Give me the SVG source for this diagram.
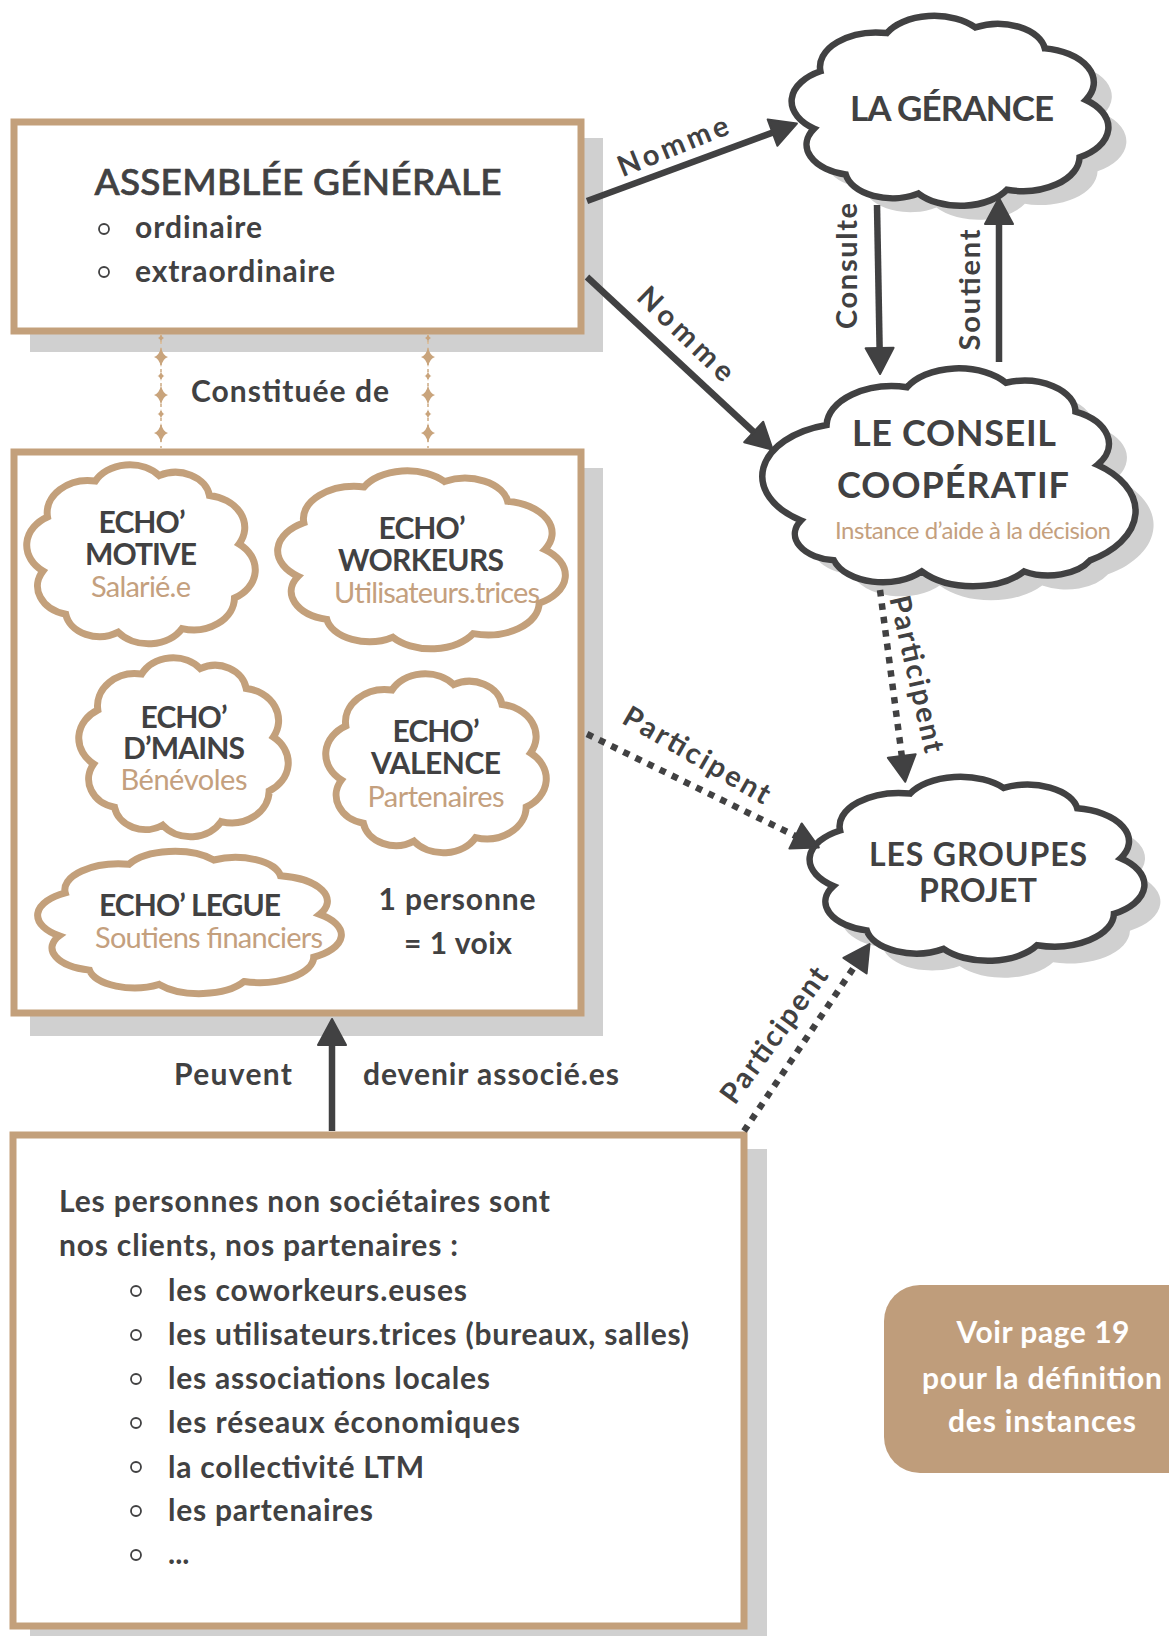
<svg xmlns="http://www.w3.org/2000/svg" xmlns:xlink="http://www.w3.org/1999/xlink" width="1169" height="1636" viewBox="0 0 1169 1636">
<style>
  text { font-family: Lato, "Liberation Sans", sans-serif; fill: #414142; }
  .box { fill: #ffffff; stroke: #C3A07B; stroke-width: 7; }
  .shadow { fill: #D0D0D0; }
  .cloud-dark { fill: #ffffff; stroke: #414142; stroke-width: 6.5; vector-effect: non-scaling-stroke; }
  .cloud-tan { fill: #ffffff; stroke: #C3A07B; stroke-width: 7; vector-effect: non-scaling-stroke; }
  .cloud-shadow { fill: #D0D0D0; stroke: none; }
  .h-echo { font-size: 30px; font-weight: 700; text-anchor: middle; }
  .s-echo { font-size: 29px; font-weight: 400; text-anchor: middle; fill: #C4A07E; }
  .h-dark { font-size: 35px; font-weight: 700; text-anchor: middle; }
  .body { font-size: 30px; font-weight: 700; }
  .lbl { font-size: 29px; font-weight: 700; text-anchor: middle; }
  .bullet { fill: none; stroke: #414142; stroke-width: 1.8; }
  .line { fill: none; stroke: #414142; stroke-width: 6.5; }
  .dots { fill: none; stroke: #414142; stroke-width: 6.5; stroke-dasharray: 6.5 7; }
  .spark { fill: #C9A47C; }
</style>
<defs>
  <marker id="arr" viewBox="0 0 32 32" refX="2" refY="16" markerWidth="32" markerHeight="32" markerUnits="userSpaceOnUse" orient="auto">
    <path d="M2,2 L28,16 L2,30 Z" fill="#414142" stroke="#414142" stroke-width="2" stroke-linejoin="round"/>
  </marker>
  <path id="spark" d="M0,-10 Q1.6,-1.6 7,0 Q1.6,1.6 0,10 Q-1.6,1.6 -7,0 Q-1.6,-1.6 0,-10 Z"/>
</defs>

<!-- shadows of boxes -->
<rect class="shadow" x="30" y="138" width="573" height="214"/>
<rect class="shadow" x="30" y="468" width="573" height="568"/>
<rect class="shadow" x="30" y="1149" width="737" height="500"/>

<!-- Assemblée générale -->
<g id="assemblee-generale">
  <rect class="box" x="14" y="122" width="567" height="209"/>
  <text x="298" y="195" style="font-size:37px;font-weight:500;stroke:#414142;stroke-width:0.7" text-anchor="middle" textLength="407" lengthAdjust="spacing">ASSEMBLÉE GÉNÉRALE</text>
  <circle class="bullet" cx="104" cy="229" r="5"/>
  <text class="body" x="135" y="238" textLength="127" lengthAdjust="spacing">ordinaire</text>
  <circle class="bullet" cx="104" cy="272" r="5"/>
  <text class="body" x="135" y="282" textLength="200" lengthAdjust="spacing">extraordinaire</text>
</g>

<!-- decorative link "Constituée de" -->
<g id="constituee-de">
  <line x1="161" y1="334" x2="161" y2="448" stroke="#D9C0A3" stroke-width="2" stroke-dasharray="3 4"/>
  <line x1="428" y1="334" x2="428" y2="448" stroke="#D9C0A3" stroke-width="2" stroke-dasharray="3 4"/>
  <use xlink:href="#spark" class="spark" transform="translate(161,338) scale(0.45)"/>
  <use xlink:href="#spark" class="spark" transform="translate(161,357)"/>
  <use xlink:href="#spark" class="spark" transform="translate(161,376) scale(0.5)"/>
  <use xlink:href="#spark" class="spark" transform="translate(161,395)"/>
  <use xlink:href="#spark" class="spark" transform="translate(161,414) scale(0.5)"/>
  <use xlink:href="#spark" class="spark" transform="translate(161,433)"/>
  <use xlink:href="#spark" class="spark" transform="translate(428,338) scale(0.45)"/>
  <use xlink:href="#spark" class="spark" transform="translate(428,357)"/>
  <use xlink:href="#spark" class="spark" transform="translate(428,376) scale(0.5)"/>
  <use xlink:href="#spark" class="spark" transform="translate(428,395)"/>
  <use xlink:href="#spark" class="spark" transform="translate(428,414) scale(0.5)"/>
  <use xlink:href="#spark" class="spark" transform="translate(428,433)"/>
  <text class="body" x="290" y="402" text-anchor="middle" textLength="198" lengthAdjust="spacing">Constituée de</text>
</g>

<!-- Members box -->
<g id="associes">
  <rect class="box" x="14" y="452" width="567" height="561"/>
  <text class="body" x="457" y="910" text-anchor="middle" textLength="157" lengthAdjust="spacing">1 personne</text>
  <text class="body" x="458" y="954" text-anchor="middle" textLength="108" lengthAdjust="spacing">= 1 voix</text>
</g>

<g id="echo-motive">
  <path class="cloud-tan" transform="translate(27,463) scale(2.28,1.80)" d="M7,60 A18,18 0 0 1 9,30 A18,18 0 0 1 30,10 A17,17 0 0 1 58,7 A15,15 0 0 1 80,18 A18,18 0 0 1 93,45 A18,18 0 0 1 91,75 A18,18 0 0 1 68,92 A17,17 0 0 1 40,94 A15,15 0 0 1 17,84 A16,16 0 0 1 7,60 Z"/>
  <text class="h-echo" x="142" y="533" textLength="87" lengthAdjust="spacing">ECHO’</text>
  <text class="h-echo" x="141" y="565" textLength="112" lengthAdjust="spacing">MOTIVE</text>
  <text class="s-echo" x="141" y="597" textLength="100" lengthAdjust="spacing">Salarié.e</text>
</g>

<g id="echo-workeurs">
  <path class="cloud-tan" transform="translate(278,469) scale(2.87,1.79)" d="M7,60 A18,18 0 0 1 9,30 A18,18 0 0 1 30,10 A17,17 0 0 1 58,7 A15,15 0 0 1 80,18 A18,18 0 0 1 93,45 A18,18 0 0 1 91,75 A18,18 0 0 1 68,92 A17,17 0 0 1 40,94 A15,15 0 0 1 17,84 A16,16 0 0 1 7,60 Z"/>
  <text class="h-echo" x="422" y="539" textLength="87" lengthAdjust="spacing">ECHO’</text>
  <text class="h-echo" x="421" y="571" textLength="166" lengthAdjust="spacing">WORKEURS</text>
  <text class="s-echo" x="437" y="603" textLength="206" lengthAdjust="spacing">Utilisateurs.trices</text>
</g>

<g id="echo-dmains">
  <path class="cloud-tan" transform="translate(79,656) scale(2.09,1.80)" d="M7,60 A18,18 0 0 1 9,30 A18,18 0 0 1 30,10 A17,17 0 0 1 58,7 A15,15 0 0 1 80,18 A18,18 0 0 1 93,45 A18,18 0 0 1 91,75 A18,18 0 0 1 68,92 A17,17 0 0 1 40,94 A15,15 0 0 1 17,84 A16,16 0 0 1 7,60 Z"/>
  <text class="h-echo" x="184" y="728" textLength="87" lengthAdjust="spacing">ECHO’</text>
  <text class="h-echo" x="184" y="759" textLength="122" lengthAdjust="spacing">D’MAINS</text>
  <text class="s-echo" x="184" y="790" textLength="127" lengthAdjust="spacing">Bénévoles</text>
</g>

<g id="echo-valence">
  <path class="cloud-tan" transform="translate(326,672) scale(2.20,1.80)" d="M7,60 A18,18 0 0 1 9,30 A18,18 0 0 1 30,10 A17,17 0 0 1 58,7 A15,15 0 0 1 80,18 A18,18 0 0 1 93,45 A18,18 0 0 1 91,75 A18,18 0 0 1 68,92 A17,17 0 0 1 40,94 A15,15 0 0 1 17,84 A16,16 0 0 1 7,60 Z"/>
  <text class="h-echo" x="436" y="742" textLength="87" lengthAdjust="spacing">ECHO’</text>
  <text class="h-echo" x="436" y="774" textLength="130" lengthAdjust="spacing">VALENCE</text>
  <text class="s-echo" x="436" y="807" textLength="137" lengthAdjust="spacing">Partenaires</text>
</g>

<g id="echo-legue">
  <path class="cloud-tan" transform="translate(38,850) scale(3.03,1.43)" d="M7,60 A18,18 0 0 1 9,30 A18,18 0 0 1 30,10 A17,17 0 0 1 58,7 A15,15 0 0 1 80,18 A18,18 0 0 1 93,45 A18,18 0 0 1 91,75 A18,18 0 0 1 68,92 A17,17 0 0 1 40,94 A15,15 0 0 1 17,84 A16,16 0 0 1 7,60 Z"/>
  <text class="h-echo" x="190" y="916" textLength="182" lengthAdjust="spacing">ECHO’ LEGUE</text>
  <text class="s-echo" x="209" y="948" textLength="228" lengthAdjust="spacing">Soutiens financiers</text>
</g>

<!-- La gérance -->
<g id="la-gerance">
  <path class="cloud-shadow" transform="translate(810,28) scale(3.16,1.91)" d="M7,60 A18,18 0 0 1 9,30 A18,18 0 0 1 30,10 A17,17 0 0 1 58,7 A15,15 0 0 1 80,18 A18,18 0 0 1 93,45 A18,18 0 0 1 91,75 A18,18 0 0 1 68,92 A17,17 0 0 1 40,94 A15,15 0 0 1 17,84 A16,16 0 0 1 7,60 Z"/>
  <path class="cloud-dark" transform="translate(792,14) scale(3.16,1.91)" d="M7,60 A18,18 0 0 1 9,30 A18,18 0 0 1 30,10 A17,17 0 0 1 58,7 A15,15 0 0 1 80,18 A18,18 0 0 1 93,45 A18,18 0 0 1 91,75 A18,18 0 0 1 68,92 A17,17 0 0 1 40,94 A15,15 0 0 1 17,84 A16,16 0 0 1 7,60 Z"/>
  <text class="h-dark" x="952" y="121" textLength="204" lengthAdjust="spacing">LA GÉRANCE</text>
</g>

<!-- Le conseil coopératif -->
<g id="conseil-cooperatif">
  <path class="cloud-shadow" transform="translate(786,379) scale(3.66,2.22)" d="M9,70 A24,24 0 0 1 16,27 A18,18 0 0 1 38,10 A16,16 0 0 1 65,8 A14,14 0 0 1 84,21 A16,16 0 0 1 90,45 A26,26 0 0 1 88,88 A13,13 0 0 1 70,93 A18,18 0 0 1 42,93 A14,14 0 0 1 18,88 A12,12 0 0 1 9,70 Z"/>
  <path class="cloud-dark" transform="translate(768,365) scale(3.66,2.22)" d="M9,70 A24,24 0 0 1 16,27 A18,18 0 0 1 38,10 A16,16 0 0 1 65,8 A14,14 0 0 1 84,21 A16,16 0 0 1 90,45 A26,26 0 0 1 88,88 A13,13 0 0 1 70,93 A18,18 0 0 1 42,93 A14,14 0 0 1 18,88 A12,12 0 0 1 9,70 Z"/>
  <text class="h-dark" x="954" y="446" style="font-size:36px" textLength="204" lengthAdjust="spacing">LE CONSEIL</text>
  <text class="h-dark" x="953" y="498" style="font-size:36px" textLength="232" lengthAdjust="spacing">COOPÉRATIF</text>
  <text x="973" y="539" text-anchor="middle" style="font-size:24px;fill:#C4A07E" textLength="276" lengthAdjust="spacing">Instance d’aide à la décision</text>
</g>

<!-- Les groupes projet -->
<g id="groupes-projet">
  <path class="cloud-shadow" transform="translate(826,792) scale(3.34,1.85)" d="M7,60 A18,18 0 0 1 9,30 A18,18 0 0 1 30,10 A17,17 0 0 1 58,7 A15,15 0 0 1 80,18 A18,18 0 0 1 93,45 A18,18 0 0 1 91,75 A18,18 0 0 1 68,92 A17,17 0 0 1 40,94 A15,15 0 0 1 17,84 A16,16 0 0 1 7,60 Z"/>
  <path class="cloud-dark" transform="translate(810,775) scale(3.34,1.85)" d="M7,60 A18,18 0 0 1 9,30 A18,18 0 0 1 30,10 A17,17 0 0 1 58,7 A15,15 0 0 1 80,18 A18,18 0 0 1 93,45 A18,18 0 0 1 91,75 A18,18 0 0 1 68,92 A17,17 0 0 1 40,94 A15,15 0 0 1 17,84 A16,16 0 0 1 7,60 Z"/>
  <text class="h-dark" x="978" y="866" style="font-size:32px" textLength="218" lengthAdjust="spacing">LES GROUPES</text>
  <text class="h-dark" x="978" y="902" style="font-size:32px" textLength="118" lengthAdjust="spacing">PROJET</text>
</g>

<!-- Non-sociétaires box -->
<g id="non-societaires">
  <rect class="box" x="13" y="1135" width="731" height="491"/>
  <text class="body" x="59" y="1212" textLength="491" lengthAdjust="spacing">Les personnes non sociétaires sont</text>
  <text class="body" x="59" y="1256" textLength="399" lengthAdjust="spacing">nos clients, nos partenaires :</text>
  <circle class="bullet" cx="136" cy="1291" r="5"/>
  <text class="body" x="168" y="1301" textLength="299" lengthAdjust="spacing">les coworkeurs.euses</text>
  <circle class="bullet" cx="136" cy="1335" r="5"/>
  <text class="body" x="168" y="1345" textLength="521" lengthAdjust="spacing">les utilisateurs.trices (bureaux, salles)</text>
  <circle class="bullet" cx="136" cy="1379" r="5"/>
  <text class="body" x="168" y="1389" textLength="322" lengthAdjust="spacing">les associations locales</text>
  <circle class="bullet" cx="136" cy="1423" r="5"/>
  <text class="body" x="168" y="1433" textLength="352" lengthAdjust="spacing">les réseaux économiques</text>
  <circle class="bullet" cx="136" cy="1467" r="5"/>
  <text class="body" x="168" y="1478" textLength="256" lengthAdjust="spacing">la collectivité LTM</text>
  <circle class="bullet" cx="136" cy="1511" r="5"/>
  <text class="body" x="168" y="1521" textLength="205" lengthAdjust="spacing">les partenaires</text>
  <circle class="bullet" cx="136" cy="1555" r="5"/>
  <text class="body" x="168" y="1564">...</text>
</g>

<!-- Note -->
<g id="note">
  <rect x="884" y="1285" width="320" height="188" rx="36" ry="36" fill="#BF9D7B"/>
  <text class="body" x="1043" y="1343" text-anchor="middle" style="fill:#ffffff" textLength="173" lengthAdjust="spacing">Voir page 19</text>
  <text class="body" x="1042" y="1389" text-anchor="middle" style="fill:#ffffff" textLength="240" lengthAdjust="spacing">pour la définition</text>
  <text class="body" x="1042" y="1432" text-anchor="middle" style="fill:#ffffff" textLength="188" lengthAdjust="spacing">des instances</text>
</g>

<!-- Connectors -->
<g id="connectors">
  <line class="line" x1="587" y1="201" x2="772.5" y2="132.6" marker-end="url(#arr)"/>
  <text class="lbl" transform="translate(673,146) rotate(-22)" x="0" y="10" textLength="117" lengthAdjust="spacing">Nomme</text>

  <line class="line" x1="587" y1="277" x2="753.7" y2="432" marker-end="url(#arr)"/>
  <text class="lbl" transform="translate(686,334) rotate(44)" x="0" y="10" textLength="122" lengthAdjust="spacing">Nomme</text>

  <line class="line" x1="877" y1="205" x2="879.6" y2="348" marker-end="url(#arr)"/>
  <text class="lbl" transform="translate(847,266) rotate(-90)" x="0" y="10" textLength="126" lengthAdjust="spacing">Consulte</text>

  <line class="line" x1="999" y1="362" x2="999" y2="224" marker-end="url(#arr)"/>
  <text class="lbl" transform="translate(970,290) rotate(-90)" x="0" y="10" textLength="121" lengthAdjust="spacing">Soutient</text>

  <line class="dots" x1="880" y1="590" x2="901.8" y2="756" marker-end="url(#arr)"/>
  <text class="lbl" transform="translate(917,674) rotate(77)" x="0" y="10" textLength="160" lengthAdjust="spacing">Participent</text>

  <line class="dots" x1="587" y1="734" x2="795.5" y2="836" marker-end="url(#arr)"/>
  <text class="lbl" transform="translate(697,755) rotate(30)" x="0" y="10" textLength="165" lengthAdjust="spacing">Participent</text>

  <line class="dots" x1="744" y1="1131" x2="855" y2="965.7" marker-end="url(#arr)"/>
  <text class="lbl" transform="translate(774,1035) rotate(-54)" x="0" y="10" textLength="161" lengthAdjust="spacing">Participent</text>

  <line class="line" x1="332" y1="1131" x2="332" y2="1045" marker-end="url(#arr)"/>
  <text class="body" x="233" y="1085" text-anchor="middle" textLength="118" lengthAdjust="spacing">Peuvent</text>
  <text class="body" x="363" y="1085" textLength="256" lengthAdjust="spacing">devenir associé.es</text>
</g>
</svg>
